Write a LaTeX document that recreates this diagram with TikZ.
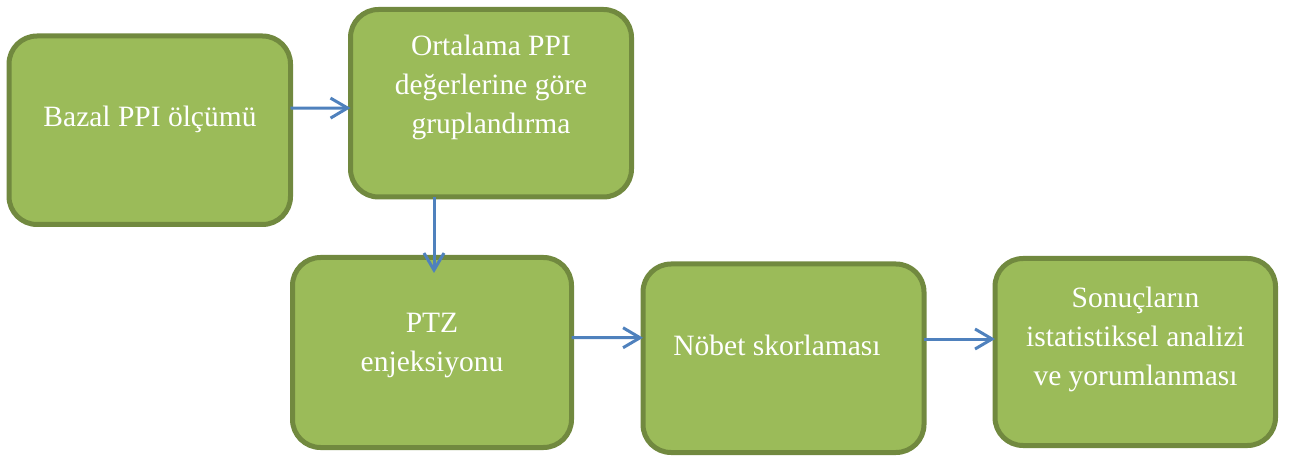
\documentclass[tikz,border=0pt]{standalone}
\usepackage{fontspec}
\setmainfont{Liberation Serif}
\usetikzlibrary{arrows.meta}
\definecolor{boxfill}{HTML}{9BBB59}
\definecolor{boxline}{HTML}{71893F}
\definecolor{arrowblue}{HTML}{4F81BD}
\tikzset{
  box/.style={draw=boxline, fill=boxfill, line width=5pt, rounded corners=28pt,
    inner sep=0pt, outer sep=0pt},
  txt/.style={text=white, align=center, inner sep=0pt, anchor=base,
    font=\fontsize{29.5}{39}\selectfont},
  arr/.style={draw=arrowblue, line width=3pt, -{Straight Barb[length=17pt,width=20pt]}}
}
\begin{document}
\begin{tikzpicture}[x=1pt,y=-1pt]
\useasboundingbox (0,0) rectangle (1291,457);
\node[box, minimum width=281.5pt, minimum height=188.5pt] (b1) at (149.75,130.25) {};
\node[box, minimum width=281pt, minimum height=187.5pt] (b2) at (491,103.25) {};
\node[box, minimum width=279pt, minimum height=190pt] (b3) at (432,352.5) {};
\node[box, minimum width=281pt, minimum height=188.5pt] (b4) at (783.5,358.25) {};
\node[box, minimum width=280.5pt, minimum height=187pt] (b5) at (1135.25,352) {};
\node[txt] (t1) at (150,127) {Bazal PPI ölçümü};
\node[txt] (t2) at (491,134) {Ortalama PPI\\değerlerine göre\\gruplandırma};
\node[txt] (t3) at (432,371) {PTZ\\enjeksiyonu};
\node[txt] (t4) at (777,355) {Nöbet skorlaması};
\node[txt] (t5) at (1135.5,385) {Sonuçların\\istatistiksel analizi\\ve yorumlanması};
\draw[arr] ([yshift=22pt]b1.east) -- ([yshift=-4.75pt]b2.west);
\draw[arr] ([xshift=-57pt]b2.south) -- ([xshift=2pt,yshift=-15.5pt]b3.north);
\draw[arr] ([yshift=14.8pt]b3.east) -- ([yshift=20.5pt]b4.west);
\draw[arr] ([yshift=19.25pt]b4.east) -- ([yshift=13pt]b5.west);
\end{tikzpicture}
\end{document}
